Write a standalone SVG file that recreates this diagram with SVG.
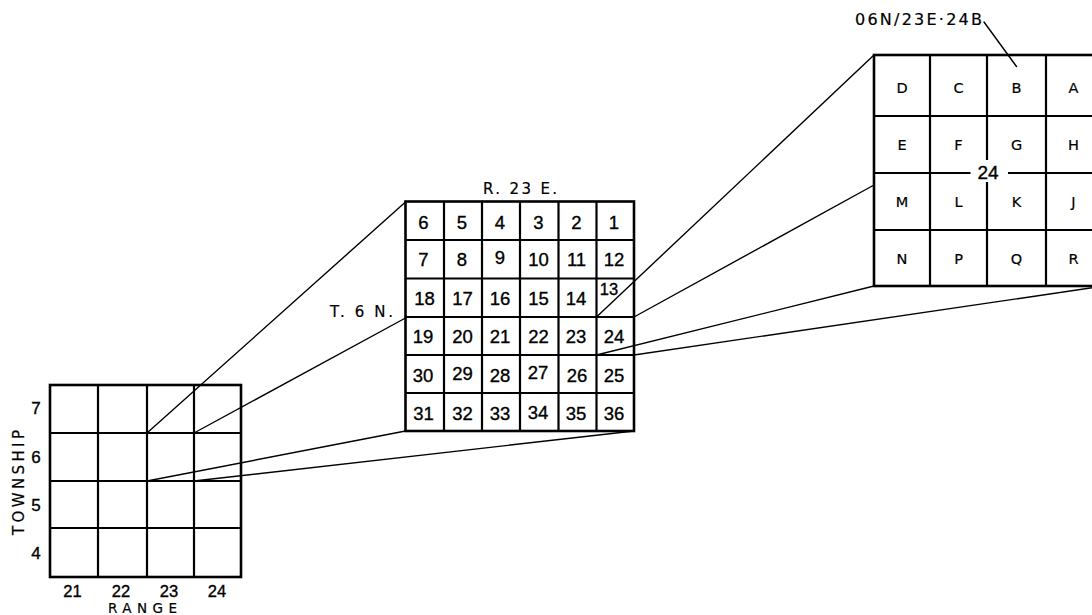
<svg xmlns="http://www.w3.org/2000/svg" width="1092" height="615" viewBox="0 0 1092 615">
  <style>
    .grid { fill: none; stroke: #000; stroke-width: 2.6; stroke-linecap: square; }
    .inner { fill: none; stroke: #000; stroke-width: 2.2; }
    .conn { fill: none; stroke: #000; stroke-width: 1.4; stroke-linecap: round; }
    text { font-family: "Liberation Sans", Arial, sans-serif; fill: #000; stroke: #000; stroke-width: 0.35; }
    .lbl { font-size: 17px; text-anchor: middle; }
    .sec { font-size: 18.5px; text-anchor: middle; }
    .qtr { font-family: "DejaVu Sans", sans-serif; font-size: 14.5px; text-anchor: middle; stroke-width: 0.2; }
    .cap { font-family: "DejaVu Sans", sans-serif; font-size: 15px; stroke-width: 0.2; }
  </style>

  <!-- Townships and ranges -->
  <g id="township-grid">
    <rect class="grid" x="50" y="385" width="191" height="192"/>
    <path class="inner" d="M98 385V577M147 385V577M194 385V577M50 433H241M50 481H241M50 528H241"/>
    <text class="lbl" x="36" y="414">7</text>
    <text class="lbl" x="36" y="462.5">6</text>
    <text class="lbl" x="36" y="510.5">5</text>
    <text class="lbl" x="36" y="558.5">4</text>
    <text class="lbl" x="72.5" y="596.5" style="font-size:16.5px">21</text>
    <text class="lbl" x="121" y="596.5" style="font-size:16.5px">22</text>
    <text class="lbl" x="169" y="596.5" style="font-size:16.5px">23</text>
    <text class="lbl" x="217" y="596.5" style="font-size:16.5px">24</text>
    <text class="cap" x="108" y="612.5" style="font-size:13.5px" textLength="69" lengthAdjust="spacing">RANGE</text>
    <text class="cap" transform="translate(24,535) rotate(-90)" textLength="105" lengthAdjust="spacing">TOWNSHIP</text>
  </g>

  <!-- Sections of T. 6 N., R. 23 E. -->
  <g id="section-grid">
    <rect class="grid" x="405.5" y="201.5" width="228.5" height="229.5"/>
    <path class="inner" d="M444 201.5V431M482 201.5V431M520 201.5V431M558.5 201.5V431M596.5 201.5V431M405.5 240H634M405.5 278.5H634M405.5 317H634M405.5 355H634M405.5 393H634"/>
    <text class="cap" x="483" y="193.5" textLength="74" lengthAdjust="spacing">R. 23 E.</text>
    <text class="cap" x="330" y="317" textLength="63" lengthAdjust="spacing">T. 6 N.</text>
    <text class="sec" x="423.5" y="228.5">6</text>
    <text class="sec" x="462" y="228.5">5</text>
    <text class="sec" x="500" y="228.5">4</text>
    <text class="sec" x="538.5" y="228.5">3</text>
    <text class="sec" x="576.5" y="228.5">2</text>
    <text class="sec" x="614" y="228.5">1</text>
    <text class="sec" x="423.5" y="266">7</text>
    <text class="sec" x="462" y="266">8</text>
    <text class="sec" x="500" y="264">9</text>
    <text class="sec" x="538.5" y="266">10</text>
    <text class="sec" x="576.5" y="266">11</text>
    <text class="sec" x="614" y="266">12</text>
    <text class="sec" x="424.5" y="304.5">18</text>
    <text class="sec" x="462.5" y="304.5">17</text>
    <text class="sec" x="500" y="304.5">16</text>
    <text class="sec" x="538.5" y="304.5">15</text>
    <text class="sec" x="576" y="304.5">14</text>
    <text class="sec" x="609" y="295" style="font-size:16.5px">13</text>
    <text class="sec" x="423" y="343">19</text>
    <text class="sec" x="462.5" y="343">20</text>
    <text class="sec" x="500" y="343">21</text>
    <text class="sec" x="538.5" y="343">22</text>
    <text class="sec" x="576" y="343">23</text>
    <text class="sec" x="614" y="343">24</text>
    <text class="sec" x="423" y="381.5">30</text>
    <text class="sec" x="462.5" y="379.5">29</text>
    <text class="sec" x="500" y="381.5">28</text>
    <text class="sec" x="538" y="379">27</text>
    <text class="sec" x="577" y="381.5">26</text>
    <text class="sec" x="614" y="381.5">25</text>
    <text class="sec" x="423.5" y="420">31</text>
    <text class="sec" x="462.5" y="420">32</text>
    <text class="sec" x="500" y="420">33</text>
    <text class="sec" x="538" y="419">34</text>
    <text class="sec" x="576" y="420">35</text>
    <text class="sec" x="614" y="420">36</text>
  </g>

  <!-- Quarter-quarter tracts of section 24 -->
  <g id="tract-grid">
    <rect class="grid" x="874" y="55" width="230" height="231"/>
    <path class="inner" d="M930 55V286M1046 55V286M987 55V160M987 182V286M874 116H1104M874 230H1104M874 173H970.5M1008 173H1104"/>
    <text class="sec" x="988" y="178.5" style="font-size:19px">24</text>
    <text class="qtr" x="902" y="92.5">D</text>
    <text class="qtr" x="958.5" y="92.5">C</text>
    <text class="qtr" x="1016.5" y="92.5">B</text>
    <text class="qtr" x="1073.5" y="92.5">A</text>
    <text class="qtr" x="902" y="149.5">E</text>
    <text class="qtr" x="958.5" y="149.5">F</text>
    <text class="qtr" x="1016.5" y="149.5">G</text>
    <text class="qtr" x="1073.5" y="149.5">H</text>
    <text class="qtr" x="902" y="207">M</text>
    <text class="qtr" x="958.5" y="207">L</text>
    <text class="qtr" x="1016.5" y="207">K</text>
    <text class="qtr" x="1073.5" y="207">J</text>
    <text class="qtr" x="902" y="263.5">N</text>
    <text class="qtr" x="958.5" y="263.5">P</text>
    <text class="qtr" x="1016.5" y="263.5">Q</text>
    <text class="qtr" x="1073.5" y="263.5">R</text>
  </g>

  <g id="tract-label">
    <text class="cap" x="855" y="24.5" style="font-size:16px" textLength="127" lengthAdjust="spacing">06N/23E·24B</text>
    <path class="conn" d="M984 22L1016.5 66.5"/>
  </g>

  <!-- Enlargement connectors -->
  <g id="connectors">
    <path class="conn" d="M147 433L405.5 202"/>
    <path class="conn" d="M194 433L405.5 318"/>
    <path class="conn" d="M147 481L405.5 431"/>
    <path class="conn" d="M194 481L634 431"/>
    <path class="conn" d="M596.5 317L874 55"/>
    <path class="conn" d="M634 317L874 185"/>
    <path class="conn" d="M596.5 355L874 286"/>
    <path class="conn" d="M634 355L1104 286"/>
  </g>
</svg>
